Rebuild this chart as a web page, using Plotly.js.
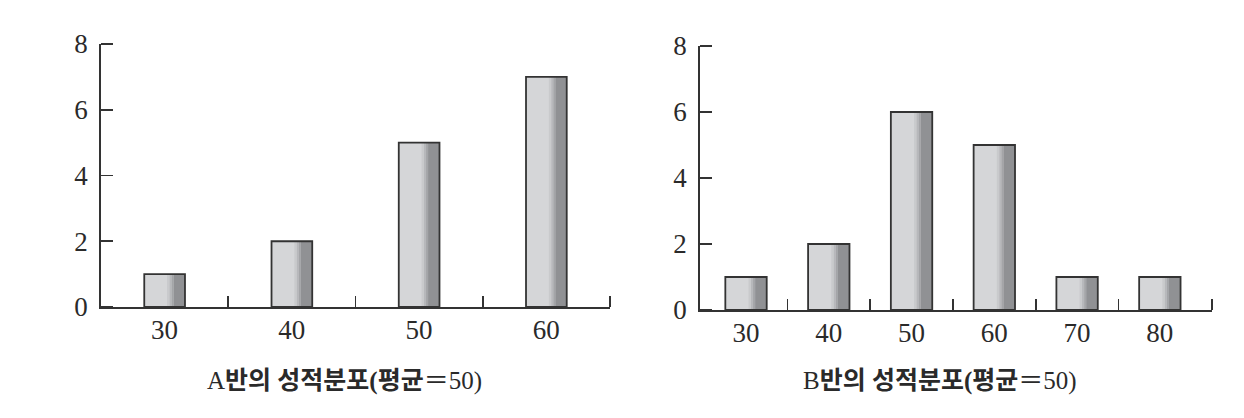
<!DOCTYPE html>
<html>
<head>
<meta charset="utf-8">
<script src="https://cdn.plot.ly/plotly-3.0.1.min.js"></script>
<style>html,body{margin:0;padding:0;background:#fff;}#chart{width:1244px;height:418px;}</style>
</head>
<body>
<div id="chart"></div>
<script>
// ---- data ----
const categoriesA = ['30', '40', '50', '60'];
const countsA = [1, 2, 5, 7];
const categoriesB = ['30', '40', '50', '60', '70', '80'];
const countsB = [1, 2, 6, 5, 1, 1];
const yTickVals = [0, 2, 4, 6, 8];
const titleA = 'A<b>반의 성적분포(평균</b>＝50)';
const titleB = 'B<b>반의 성적분포(평균</b>＝50)';

// ---- style ----
const W = 1244, H = 418;
const ink = '#333333';
const numFont = {family: 'Liberation Serif, Noto Sans CJK KR, serif', size: 27, color: '#2a2a2a'};
const strips = [
  [0.56, 0.62, '#c9cacc'],
  [0.62, 0.67, '#b7b8bb'],
  [0.67, 0.72, '#a4a5a8'],
  [0.72, 1.00, '#909194']
];

function barTraces(cats, vals, xa, ya, w) {
  const xs = cats.map((c, i) => i);
  const out = [];
  out.push({type: 'bar', x: xs, y: vals, xaxis: xa, yaxis: ya, width: w,
    marker: {color: '#d5d6d8', line: {width: 0}}, hoverinfo: 'skip'});
  strips.forEach(s => {
    out.push({type: 'bar', x: xs, y: vals, xaxis: xa, yaxis: ya,
      width: w * (s[1] - s[0]), offset: -w / 2 + w * s[0],
      marker: {color: s[2], line: {width: 0}}, hoverinfo: 'skip'});
  });
  out.push({type: 'bar', x: xs, y: vals, xaxis: xa, yaxis: ya, width: w,
    marker: {color: 'rgba(0,0,0,0)', line: {width: 1.8, color: ink}}, hoverinfo: 'skip'});
  return out;
}

function xAxis(cats, domPx, range, yname) {
  const bounds = cats.slice(1).map((c, i) => i + 0.5).concat([range[1]]);
  return {
    domain: [domPx[0] / W, domPx[1] / W], range: range, anchor: yname,
    tickmode: 'array', tickvals: cats.map((c, i) => i), ticktext: cats,
    ticks: '', showline: true, linecolor: ink, linewidth: 1.8,
    zeroline: false, showgrid: false, tickfont: numFont, ticklabelstandoff: -2,
    minor: {tickmode: 'array', tickvals: bounds, ticks: 'inside', ticklen: 11,
      tickwidth: 1.8, tickcolor: ink, showgrid: false},
    fixedrange: true
  };
}
function yAxis(domPx, xname) {
  return {
    domain: [(H - domPx[0]) / H, (H - domPx[1]) / H], range: [0, 8], anchor: xname,
    tickmode: 'array', tickvals: yTickVals, ticks: '',
    showline: true, linecolor: ink, linewidth: 1.8,
    zeroline: false, showgrid: false, tickfont: numFont, ticklabelstandoff: 6,
    minor: {tickmode: 'array', tickvals: yTickVals, ticks: 'inside', ticklen: 12,
      tickwidth: 1.8, tickcolor: ink, showgrid: false},
    fixedrange: true
  };
}

const data = [].concat(
  barTraces(categoriesA, countsA, 'x', 'y', 0.32),
  barTraces(categoriesB, countsB, 'x2', 'y2', 0.5)
);

const titleFont = {family: 'Liberation Serif, Noto Sans CJK KR, serif', size: 25, color: '#2a2a2a'};
const layout = {
  width: W, height: H, margin: {l: 0, r: 0, t: 0, b: 0},
  paper_bgcolor: '#ffffff', plot_bgcolor: 'rgba(0,0,0,0)',
  showlegend: false, barmode: 'overlay',
  xaxis: xAxis(categoriesA, [101, 610], [-0.5, 3.5], 'y'),
  yaxis: yAxis([307, 44], 'x'),
  xaxis2: xAxis(categoriesB, [700, 1212], [-0.556, 5.63], 'y2'),
  yaxis2: yAxis([310, 46], 'x2'),
  annotations: [
    {text: titleA, xref: 'paper', yref: 'paper', x: 344 / W, y: (H - 381) / H,
      xanchor: 'center', yanchor: 'middle', showarrow: false, font: titleFont},
    {text: titleB, xref: 'paper', yref: 'paper', x: 940 / W, y: (H - 381) / H,
      xanchor: 'center', yanchor: 'middle', showarrow: false, font: titleFont}
  ]
};

Plotly.newPlot('chart', data, layout, {staticPlot: true, displayModeBar: false});
</script>
</body>
</html>
